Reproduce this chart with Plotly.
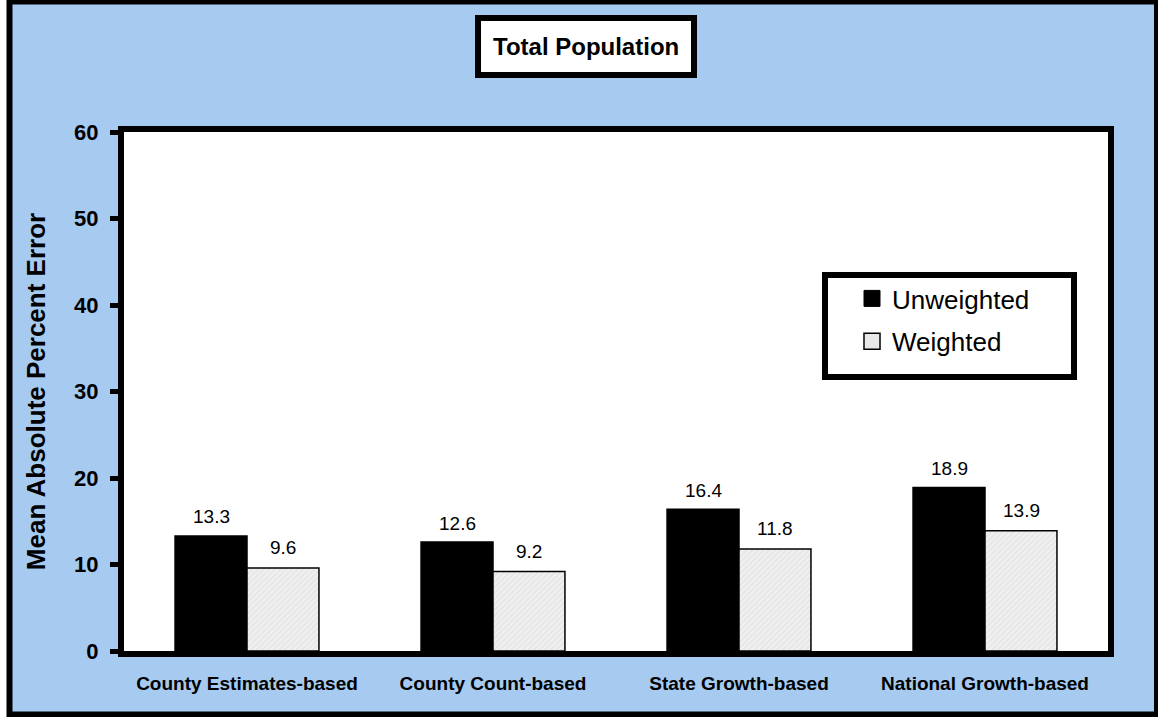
import plotly.graph_objects as go

categories = ["County Estimates-based", "County Count-based", "State Growth-based", "National Growth-based"]
unweighted = [13.3, 12.6, 16.4, 18.9]
weighted = [9.6, 9.2, 11.8, 13.9]
y_ticks = [0, 10, 20, 30, 40, 50, 60]
title_text = "Total Population"
y_title = "Mean Absolute Percent Error"
series_names = ["Unweighted", "Weighted"]

W, H = 1158, 717
L, R, T, B = 124, 50, 132, 66
pw, ph = W - L - R, H - T - B

def px_x(x):
    return (x - L) / pw

def px_y(y):
    return (H - B - y) / ph

FONT = "Arial, Liberation Sans, sans-serif"
BLUE = "#A6CAF0"

fig = go.Figure()
fig.add_trace(go.Bar(
    x=categories, y=unweighted, name=series_names[0],
    marker=dict(color="black", line=dict(color="black", width=1.5)),
    showlegend=False,
))
fig.add_trace(go.Bar(
    x=categories, y=weighted, name=series_names[1],
    marker=dict(color="#ececec", line=dict(color="black", width=1.5),
                pattern=dict(shape="/", bgcolor="#f0f0f0", fgcolor="#d4d4d4", size=4, solidity=0.3)),
    showlegend=False,
))
# legend entries (no data)
fig.add_trace(go.Scatter(x=[categories[0]], y=[None], mode="markers", name=series_names[0],
                         marker=dict(symbol="square", size=16, color="black", line=dict(color="black", width=1)),
                         legendgroup="a"))
fig.add_trace(go.Scatter(x=[categories[0]], y=[None], mode="markers", name=series_names[1],
                         marker=dict(symbol="square", size=16, color="#e8e8e8", line=dict(color="black", width=1.5)),
                         legendgroup="b"))

LBL = dict(size=19, family=FONT, color="black")
annotations = []
for i, c in enumerate(categories):
    annotations.append(dict(x=c, y=unweighted[i], text=f"{unweighted[i]:.1f}", showarrow=False,
                            xshift=-36, yshift=19, yanchor="middle", font=LBL))
    annotations.append(dict(x=c, y=weighted[i], text=f"{weighted[i]:.1f}", showarrow=False,
                            xshift=36, yshift=20, yanchor="middle", font=LBL))
annotations.append(dict(xref="paper", yref="paper", x=px_x(586), y=px_y(46), xanchor="center", yanchor="middle",
                        text=title_text, showarrow=False,
                        font=dict(size=24, family=FONT, color="black", weight="bold")))

shapes = [
    dict(type="rect", xref="paper", yref="paper", layer="below",
         x0=px_x(9.5), x1=px_x(1157), y0=px_y(1.5), y1=px_y(714.5),
         fillcolor=BLUE, line=dict(color="black", width=6)),
    dict(type="rect", xref="paper", yref="paper", layer="below",
         x0=0, x1=1, y0=0, y1=1, fillcolor="white", line=dict(width=0)),
    dict(type="rect", xref="paper", yref="paper",
         x0=px_x(478), x1=px_x(694), y0=px_y(18), y1=px_y(75),
         fillcolor="white", line=dict(color="black", width=6), layer="below"),
    dict(type="rect", xref="paper", yref="paper",
         x0=px_x(825), x1=px_x(1074), y0=px_y(275), y1=px_y(377),
         fillcolor="white", line=dict(color="black", width=6), layer="below"),
]

fig.update_layout(
    width=W, height=H,
    margin=dict(l=L, r=R, t=T, b=B, pad=0),
    paper_bgcolor="white",
    plot_bgcolor="white",
    barmode="group",
    bargap=0.415,
    bargroupgap=0,
    font=dict(family=FONT, color="black"),
    showlegend=True,
    legend=dict(x=px_x(852), y=px_y(275), xanchor="left", yanchor="top",
                bgcolor="rgba(0,0,0,0)", borderwidth=0,
                font=dict(size=26, family=FONT, color="black"),
                tracegroupgap=6, itemwidth=30),
    annotations=annotations,
    shapes=shapes,
    xaxis=dict(showline=True, linecolor="black", linewidth=6, mirror=True,
               ticks="", showgrid=False, automargin=False,
               tickfont=dict(size=19, family=FONT, color="black", weight="bold"),
               ticklabelstandoff=10),
    yaxis=dict(range=[0, 60], tickvals=y_ticks, showline=True, linecolor="black", linewidth=6,
               mirror=True, ticks="outside", ticklen=8, tickwidth=5, tickcolor="black",
               showgrid=False, zeroline=False, automargin=False, ticklabelstandoff=7,
               tickfont=dict(size=22, family=FONT, color="black", weight="bold"),
               title=dict(text=y_title, font=dict(size=26, family=FONT, color="black", weight="bold"),
                          standoff=23)),
)

fig.write_html("out.html", config={"displayModeBar": False},
               post_script="document.body.style.margin='0';")
